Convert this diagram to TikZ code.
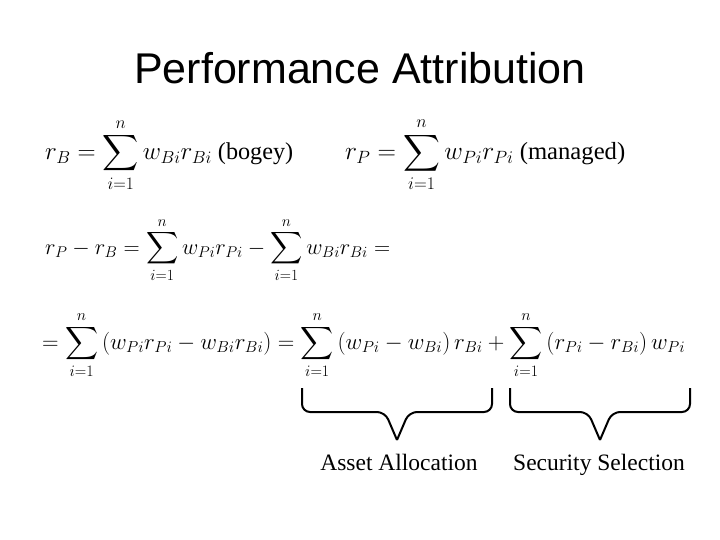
\documentclass[tikz,border=0pt]{standalone}
\usepackage{fontspec}
\setmainfont{Liberation Serif}
\newfontfamily\titlefont{Liberation Sans}
\usepackage{amsmath}
\usepackage{graphicx}
\begin{document}
\begin{tikzpicture}[x=1pt,y=-1pt,
  eq/.style={anchor=west,inner sep=0pt,font=\fontsize{24}{28}\selectfont},
  lab/.style={inner sep=0pt,anchor=base,font=\fontsize{23.5}{28}\selectfont},
  brace/.style={line width=2pt,rounded corners=8pt}]
\useasboundingbox (0,0) rectangle (720,540);
\node[inner sep=0pt,font=\titlefont\fontsize{43}{50}\selectfont] (title) at (360,68) {Performance Attribution};
\node[eq] (e1) at (45,155) {\resizebox{248pt}{!}{$r_B=\displaystyle\sum_{i=1}^{n} w_{Bi}r_{Bi}$ (bogey)}};
\node[eq] (e2) at (345,155) {\resizebox{280pt}{!}{$r_P=\displaystyle\sum_{i=1}^{n} w_{Pi}r_{Pi}$ (managed)}};
\node[eq] (e3) at (45,250) {\resizebox{345pt}{!}{$r_P-r_B=\displaystyle\sum_{i=1}^{n} w_{Pi}r_{Pi}-\sum_{i=1}^{n} w_{Bi}r_{Bi}=$}};
\node[eq] (e4) at (42,345) {\resizebox{643pt}{!}{$=\displaystyle\sum_{i=1}^{n}\left(w_{Pi}r_{Pi}-w_{Bi}r_{Bi}\right)=\sum_{i=1}^{n}\left(w_{Pi}-w_{Bi}\right)r_{Bi}+\sum_{i=1}^{n}\left(r_{Pi}-r_{Bi}\right)w_{Pi}$}};
\coordinate (a1) at (302,388); \coordinate (a2) at (492,388);
\coordinate (b1) at (510,388); \coordinate (b2) at (690,388);
\draw[brace] (a1) -- ++(0,24) -- (385,412) -- (397,440);
\draw[brace] (a2) -- ++(0,24) -- (409,412) -- (397,440);
\draw[brace] (b1) -- ++(0,24) -- (588,412) -- (600,440);
\draw[brace] (b2) -- ++(0,24) -- (612,412) -- (600,440);
\node[lab] (l1) at (399,470) {Asset Allocation};
\node[lab] (l2) at (599,470) {Security Selection};
\end{tikzpicture}
\end{document}
